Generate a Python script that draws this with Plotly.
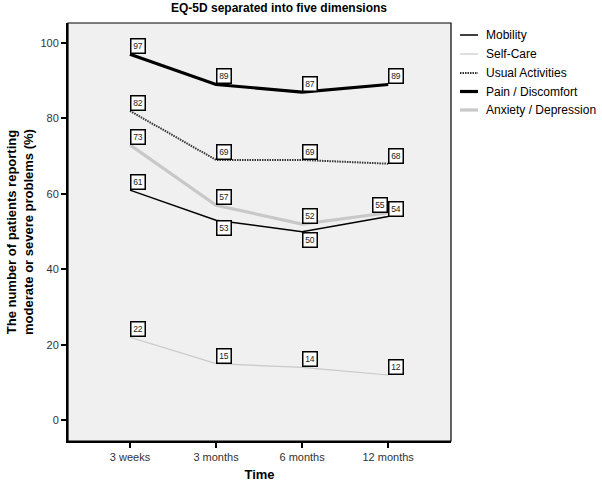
import plotly.graph_objects as go

# ---- data ----
times = ["3 weeks", "3 months", "6 months", "12 months"]
series_names = ["Mobility", "Self-Care", "Usual Activities", "Pain / Discomfort", "Anxiety / Depression"]
mobility = [61, 53, 50, 54]
self_care = [22, 15, 14, 12]
usual_activities = [82, 69, 69, 68]
pain_discomfort = [97, 89, 87, 89]
anxiety_depression = [73, 57, 52, 55]
y_tick_values = [0, 20, 40, 60, 80, 100]

values = [mobility, self_care, usual_activities, pain_discomfort, anxiety_depression]

# ---- styles ----
styles = [
    dict(color="#000000", width=1.5, dash="solid"),
    dict(color="#c8c8c8", width=1.2, dash="solid"),
    dict(color="#333333", width=2, dash="1.5px,1px"),
    dict(color="#000000", width=3.2, dash="solid"),
    dict(color="#c8c8c8", width=3.2, dash="solid"),
]
# label box anchoring overrides (series index, point index) -> (xanchor, yanchor)
label_anchor = {
    (0, 1): ("left", "top"),
    (0, 2): ("left", "top"),
    (4, 3): ("right", "bottom"),
}

FONT = "Liberation Sans, Arial, sans-serif"
W, H = 602, 485
ML, MR, MT, MB = 68, 151, 23, 44
PW, PH = W - ML - MR, H - MT - MB

fig = go.Figure()
for i in range(5):
    fig.add_trace(go.Scatter(
        x=times, y=values[i], mode="lines", name=series_names[i],
        line=styles[i], showlegend=False, hoverinfo="skip",
    ))

annotations = []
for si, vals in enumerate(values):
    for pi, v in enumerate(vals):
        xa, ya = label_anchor.get((si, pi), ("left", "bottom"))
        annotations.append(dict(
            x=times[pi], y=v, xref="x", yref="y", text=str(v), showarrow=False,
            xanchor=xa, yanchor=ya,
            font=dict(family=FONT, size=8.5, color="#222222"),
            bgcolor="white", bordercolor="black", borderwidth=1.5, borderpad=1,
            width=11, height=11,
        ))

# y axis title (two lines, rotated)
annotations.append(dict(
    x=(20 - ML) / PW, y=0.5, xref="paper", yref="paper",
    text="<b>The number of patients reporting<br>moderate or severe problems (%)</b>",
    textangle=-90, showarrow=False, xanchor="center", yanchor="middle",
    font=dict(family=FONT, size=13, color="black"),
))

# legend drawn to the right of the plot
shapes = [dict(type="rect", xref="paper", yref="paper", x0=0, y0=0, x1=1, y1=1,
               line=dict(color="black", width=1.2), layer="above")]
legend_rows_px = [35, 54, 73, 91.5, 110]
for i, name in enumerate(series_names):
    yp = 1 - (legend_rows_px[i] - MT) / PH
    shapes.append(dict(type="line", xref="paper", yref="paper",
                       x0=(460 - ML) / PW, x1=(478 - ML) / PW, y0=yp, y1=yp,
                       line=styles[i]))
    annotations.append(dict(x=(484 - ML) / PW, y=yp, xref="paper", yref="paper",
                            text=name, showarrow=False, xanchor="left", yanchor="middle",
                            font=dict(family=FONT, size=12, color="black")))

fig.update_layout(
    width=W, height=H, autosize=False,
    margin=dict(l=ML, r=MR, t=MT, b=MB, autoexpand=False),
    paper_bgcolor="white", plot_bgcolor="#f0f0f0",
    font=dict(family=FONT, size=11, color="#333333"),
    title=dict(text="<b>EQ-5D separated into five dimensions</b>",
               x=279 / W, xanchor="center", y=1 - 8 / H, yanchor="middle",
               yref="container",
               font=dict(family=FONT, size=12, color="black")),
    showlegend=False,
    annotations=annotations,
    shapes=shapes,
)
fig.update_xaxes(
    type="category", range=[-0.72, 3.73], showgrid=False, zeroline=False,
    showline=True, linecolor="black", linewidth=2,
    ticks="outside", ticklen=5, tickwidth=1.5, tickcolor="black",
    tickfont=dict(family=FONT, size=11, color="#333333"),
    title=dict(text="<b>Time</b>", font=dict(family=FONT, size=13, color="black"), standoff=8),
)
fig.update_yaxes(
    range=[-5.5, 105.3], showgrid=False, zeroline=False,
    showline=True, linecolor="black", linewidth=2,
    tickvals=y_tick_values, ticks="outside", ticklen=5, tickwidth=1.5, tickcolor="black",
    tickfont=dict(family=FONT, size=11, color="#333333"),
)

fig.write_html("out.html", config={"displayModeBar": False},
               post_script="document.body.style.margin='0';document.body.style.overflow='hidden';")
